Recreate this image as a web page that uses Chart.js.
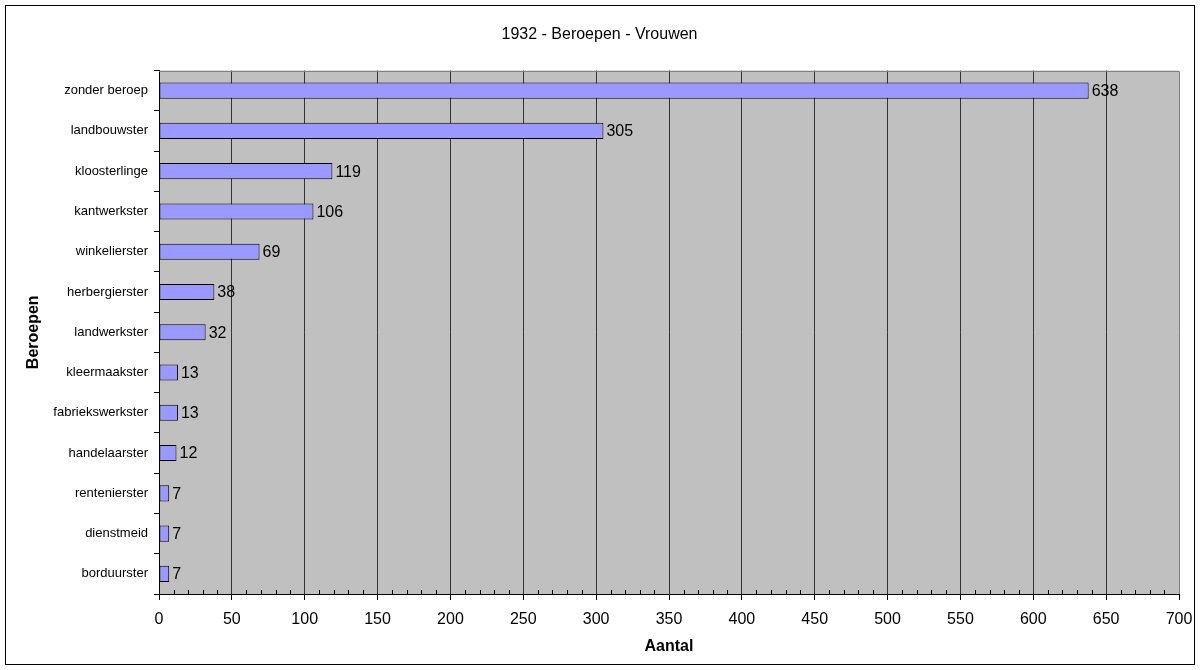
<!DOCTYPE html>
<html>
<head>
<meta charset="utf-8">
<title>1932 - Beroepen - Vrouwen</title>
<script src="https://cdn.jsdelivr.net/npm/chart.js@4/dist/chart.umd.min.js"></script>
<style>
  html, body { margin: 0; padding: 0; background: #fff; }
  canvas { display: block; }
</style>
</head>
<body>
<canvas id="barChart" width="1200" height="670"></canvas>
<script>
const beroepen = [
  "zonder beroep", "landbouwster", "kloosterlinge", "kantwerkster",
  "winkelierster", "herbergierster", "landwerkster", "kleermaakster",
  "fabriekswerkster", "handelaarster", "rentenierster", "dienstmeid", "borduurster"
];
const aantallen = [638, 305, 119, 106, 69, 38, 32, 13, 13, 12, 7, 7, 7];
const xMax = 700;
const xStep = 50;
const minorStep = 10;

const FONT = "'Liberation Sans', Arial, sans-serif";

// grijze achtergrond van het plotgebied + kader
const plotArea = {
  id: "plotArea",
  beforeDraw(chart) {
    const { ctx, chartArea: a } = chart;
    ctx.save();
    ctx.fillStyle = "#c0c0c0";
    ctx.fillRect(a.left, a.top, a.right - a.left, a.bottom - a.top);
    ctx.restore();
  },
  beforeDatasetsDraw(chart) {
    const { ctx, chartArea: a } = chart;
    ctx.save();
    ctx.strokeStyle = "#808080";
    ctx.lineWidth = 1;
    ctx.beginPath();
    ctx.moveTo(a.left, Math.round(a.top) + 0.5);
    ctx.lineTo(Math.round(a.right) + 0.5, Math.round(a.top) + 0.5);
    ctx.lineTo(Math.round(a.right) + 0.5, a.bottom);
    ctx.stroke();
    // kleine streepjes op de x-as
    const x = chart.scales.x;
    ctx.strokeStyle = "#000";
    ctx.beginPath();
    for (let v = minorStep; v < xMax; v += minorStep) {
      if (v % xStep === 0) continue;
      const px = Math.round(x.getPixelForValue(v)) + 0.5;
      ctx.moveTo(px, a.bottom - 4);
      ctx.lineTo(px, a.bottom);
    }
    ctx.stroke();
    ctx.restore();
  },
  afterDatasetsDraw(chart) {
    const { ctx } = chart;
    const meta = chart.getDatasetMeta(0);
    ctx.save();
    ctx.font = "16px " + FONT;
    ctx.fillStyle = "#000";
    ctx.textAlign = "left";
    ctx.textBaseline = "middle";
    meta.data.forEach((bar, i) => {
      ctx.fillText(String(aantallen[i]), bar.x + 3, bar.y + 1);
    });
    ctx.restore();
  },
  afterDraw(chart) {
    const { ctx } = chart;
    ctx.save();
    ctx.strokeStyle = "#000";
    ctx.lineWidth = 1;
    ctx.strokeRect(5.5, 5.5, 1189, 659);
    ctx.restore();
  }
};

new Chart(document.getElementById("barChart"), {
  type: "bar",
  data: {
    labels: beroepen,
    datasets: [{
      data: aantallen,
      backgroundColor: "#9999ff",
      borderColor: "#000",
      borderWidth: 1,
      borderSkipped: false,
      categoryPercentage: 1,
      barPercentage: 0.4
    }]
  },
  options: {
    indexAxis: "y",
    responsive: false,
    animation: false,
    layout: { padding: { left: 20, right: 21, top: 10, bottom: 10 } },
    plugins: {
      legend: { display: false },
      tooltip: { enabled: false },
      title: {
        display: true,
        text: "1932 - Beroepen - Vrouwen",
        color: "#000",
        font: { family: FONT, size: 16, weight: "normal" },
        padding: { top: 15.4, bottom: 25.9 }
      }
    },
    scales: {
      x: {
        min: 0,
        max: xMax,
        afterFit(scale) {
          scale.height = 66;
          scale.paddingLeft = 0;
          scale.paddingRight = 0;
        },
        ticks: {
          stepSize: xStep,
          color: "#000",
          padding: 10,
          maxRotation: 0,
          font: { family: FONT, size: 16 }
        },
        grid: {
          color: (c) => (c.tick && (c.tick.value === 0 || c.tick.value === xMax)) ? "rgba(0,0,0,0)" : "#333",
          tickColor: "#000",
          tickLength: 6,
          lineWidth: 1
        },
        border: { color: "#000", width: 1 },
        title: {
          display: true,
          text: "Aantal",
          color: "#000",
          font: { family: FONT, size: 16, weight: "bold" },
          padding: { top: 0, bottom: 3.4 }
        }
      },
      y: {
        afterFit(scale) { scale.width = 139; },
        ticks: {
          color: "#000",
          padding: 6,
          font: { family: FONT, size: 13 }
        },
        grid: {
          offset: true,
          drawOnChartArea: false,
          color: "#000",
          tickLength: 5
        },
        border: { color: "#000", width: 1 },
        title: {
          display: true,
          text: "Beroepen",
          color: "#000",
          font: { family: FONT, size: 16, weight: "bold" },
          padding: { top: 4.4, bottom: 0 }
        }
      }
    }
  },
  plugins: [plotArea]
});
</script>
</body>
</html>
